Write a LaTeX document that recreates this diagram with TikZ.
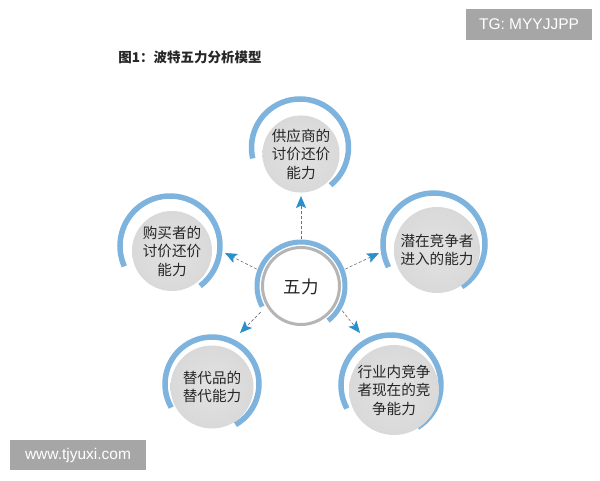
\documentclass[tikz,border=0pt]{standalone}
\usepackage{fontspec}
\setmainfont{Noto Sans CJK SC}
\newfontfamily\latinsans{Liberation Sans}
\usetikzlibrary{arrows.meta}
\definecolor{arcblue}{HTML}{7DB3DC}
\definecolor{tipblue}{HTML}{2A8FCB}
\definecolor{discgray}{HTML}{D9D9D9}
\definecolor{discin}{HTML}{E2E2E2}
\definecolor{ringgray}{HTML}{B5B5B5}
\definecolor{wmgray}{HTML}{A6A6A6}
\definecolor{txt}{HTML}{262626}
\definecolor{dashgray}{HTML}{707070}
\begin{document}
\begin{tikzpicture}[x=1pt,y=1pt,
  disc/.style={circle,inner color=discin,outer color=discgray,inner sep=0pt,align=center,text=txt,
    font=\fontsize{14.6}{18.5}\selectfont},
  outarc/.style={arcblue,line width=5.5pt},
  force/.style={densely dashed,dashgray,line width=0.6pt,
    -{Stealth[length=12pt,width=10pt,inset=2.5pt,color=tipblue,fill=tipblue]}},
  wm/.style={fill=wmgray,text=white,inner sep=0pt,font=\latinsans\fontsize{15.5}{15.5}\selectfont}]
\useasboundingbox (0,0) rectangle (600,480);
\fill[white] (0,0) rectangle (600,480);

% title
\node[font=\bfseries\fontsize{13.5}{14}\selectfont,text=txt] (title) at (190,423) {图1：波特五力分析模型};

% watermarks
\node[wm,minimum width=126pt,minimum height=31pt] (tg) at (529,455.5) {TG: MYYJJPP};
\node[wm,minimum width=136pt,minimum height=30pt] (www) at (78,25) {www.tjyuxi.com};

% outer arcs
\draw[outarc] (300,332.5) ++(-51:48.5) arc[start angle=-51,end angle=193,radius=48.5];
\draw[outarc] (170,234) ++(-53:50) arc[start angle=-53,end angle=204,radius=50];
\draw[outarc] (434,236) ++(-57:51) arc[start angle=-57,end angle=207,radius=51];
\draw[outarc] (212,96) ++(-60:47) arc[start angle=-60,end angle=210,radius=47];
\draw[outarc] (391,95) ++(-58:50) arc[start angle=-58,end angle=208,radius=50];

% discs
\node[disc,minimum size=76pt] (sup) at (301,326) {供应商的\\讨价还价\\能力};
\node[disc,minimum size=80pt] (buy) at (172,229) {购买者的\\讨价还价\\能力};
\node[disc,minimum size=86pt] (ent) at (437,230) {潜在竞争者\\进入的能力};
\node[disc,minimum size=83pt] (sub) at (212,93) {替代品的\\替代能力};
\node[disc,minimum size=90pt] (riv) at (394,90) {行业内竞争\\者现在的竞\\争能力};

% center
\draw[arcblue,line width=5pt] (301,194) ++(-52:44) arc[start angle=-52,end angle=208,radius=44];
\draw[ringgray,fill=white,line width=3pt] (301,194) circle[radius=38.5];
\node[circle,minimum size=95pt,inner sep=0pt,text=txt,font=\fontsize{17.5}{17.5}\selectfont] (c) at (301,193) {五力};

% arrow tips
\coordinate (tsup) at (301,284);
\coordinate (tbuy) at (225,227);
\coordinate (tent) at (379,227);
\coordinate (tsub) at (240,147);
\coordinate (triv) at (360,147);

\draw[force] (c.90) -- (tsup);
\draw[force] (c.158) -- (tbuy);
\draw[force] (c.22) -- (tent);
\draw[force] (c.212) -- (tsub);
\draw[force] (c.330) -- (triv);
\end{tikzpicture}
\end{document}
